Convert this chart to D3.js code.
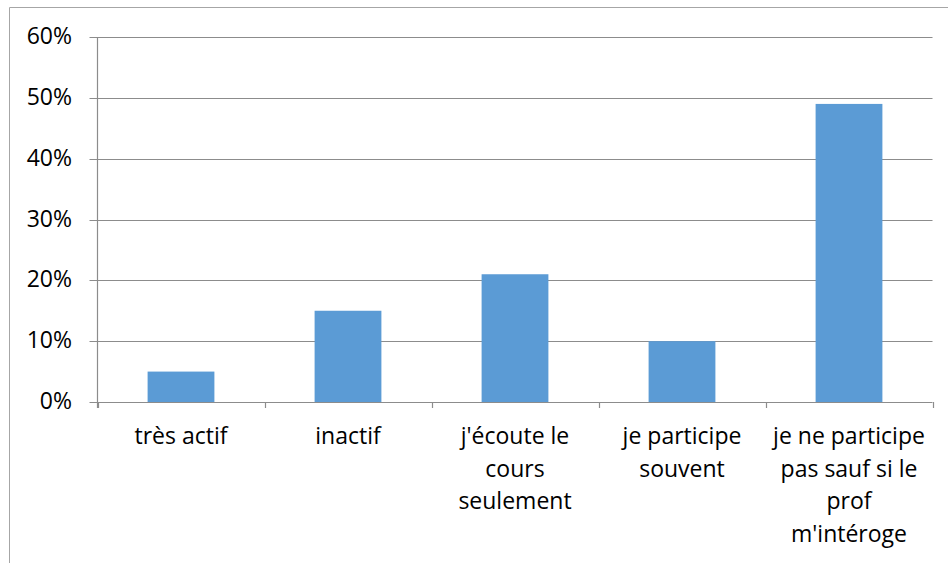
<!DOCTYPE html>
<html><head><meta charset="utf-8">
<script src="https://cdn.jsdelivr.net/npm/d3@7"></script>
<style>body{margin:0;background:#fff}svg{display:block}text{font-family:"Open Sans","Noto Sans",sans-serif;fill:#000}</style>
</head><body>
<svg id="c" width="948" height="563"></svg>
<script>
const categories = [["très actif"],["inactif"],["j'écoute le","cours","seulement"],["je participe","souvent"],["je ne participe","pas sauf si le","prof","m'intéroge"]];
const values = [0.05, 0.15, 0.21, 0.10, 0.49];
const yTicks = [0,0.1,0.2,0.3,0.4,0.5,0.6];

const svg = d3.select("#c");
const L = 97.5, R = 932.5, T = 37, B = 402;
svg.append("path").attr("d","M9.5,563V7.5H948").attr("fill","none").attr("stroke","#a6a6a6").attr("stroke-width",1);

const x = d3.scaleBand().domain(d3.range(values.length)).range([L,R]).paddingInner(0.6).paddingOuter(0.3);
const y = d3.scaleLinear().domain([0,0.6]).range([B,T]);

const grid = svg.append("g");
yTicks.forEach(t=>{
  grid.append("line").attr("x1",L-8).attr("x2",R).attr("y1",Math.round(y(t))+0.5).attr("y2",Math.round(y(t))+0.5)
    .attr("stroke","#8c8c8c").attr("stroke-width",1.2);
  grid.append("text").attr("x",72).attr("y",Math.round(y(t))).attr("dy","0.32em").attr("text-anchor","end")
    .attr("font-size",23).text(d3.format(".0%")(t));
});
svg.append("line").attr("x1",L).attr("x2",L).attr("y1",T).attr("y2",B+6).attr("stroke","#8c8c8c").attr("stroke-width",1.2);

svg.selectAll("rect.bar").data(values).join("rect").attr("class","bar")
  .attr("x",(d,i)=>x(i)).attr("width",x.bandwidth())
  .attr("y",d=>y(d)).attr("height",d=>B-y(d)).attr("fill","#5b9bd5");

const step = x.step();
d3.range(values.length+1).forEach(i=>{
  const xx = Math.round(L + i*step)+0.5;
  svg.append("line").attr("x1",xx).attr("x2",xx).attr("y1",B).attr("y2",B+6).attr("stroke","#8c8c8c").attr("stroke-width",1.2);
});

categories.forEach((lines,i)=>{
  const cx = L + (i+0.5)*step;
  const t = svg.append("text").attr("text-anchor","middle").attr("font-size",23);
  lines.forEach((ln,j)=>{
    t.append("tspan").attr("x",cx).attr("y",444 + j*32.6).text(ln);
  });
});
</script>
</body></html>
